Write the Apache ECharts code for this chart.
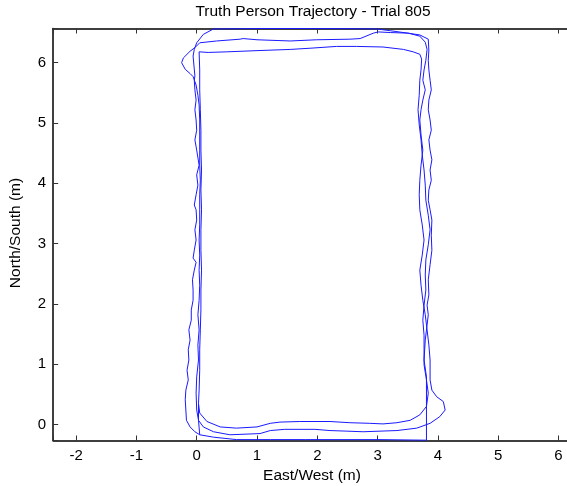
<!DOCTYPE html>
<html>
<head>
<meta charset="utf-8">
<script src="https://cdn.jsdelivr.net/npm/echarts@6/dist/echarts.min.js"></script>
<style>html,body{margin:0;padding:0;background:#fff;}#c{width:567px;height:486px;}</style>
</head>
<body>
<div id="c"></div>
<script>
// Axis limits (data units, metres)
const xLimits = [-2.38, 6.28];
const yLimits = [-0.265, 6.567];
const titleText = 'Truth Person Trajectory - Trial 805';
const xLabel = 'East/West (m)';
const yLabel = 'North/South (m)';

// Lap 1 (outer loop) [east, north]
const lap1 = [
[0.05,-0.17],[-0.03,-0.12],[-0.11,-0.04],[-0.17,0.07],[-0.18,0.24],[-0.19,0.41],[-0.18,0.57],[-0.14,0.74],[-0.16,0.90],[-0.13,1.07],
[-0.14,1.24],[-0.11,1.40],[-0.13,1.57],[-0.09,1.73],[-0.09,1.90],[-0.06,2.06],[-0.06,2.23],[-0.07,2.40],[-0.04,2.56],[-0.01,2.69],
[-0.06,2.76],[-0.04,2.89],[-0.01,3.06],[-0.03,3.23],[0.00,3.39],[-0.01,3.56],[-0.04,3.64],[-0.01,3.81],[0.02,3.97],[0.00,4.14],
[0.04,4.30],[0.00,4.55],[-0.03,4.72],[0.00,4.88],[-0.01,5.05],[-0.03,5.22],[-0.01,5.38],[-0.03,5.55],[-0.04,5.71],[-0.03,5.78],
[-0.06,6.11],[-0.04,6.22],[0.00,6.33],[0.11,6.47],[0.28,6.56],[1.05,6.567],[1.71,6.567],[2.38,6.565],[2.99,6.56],[3.21,6.53],
[3.50,6.49],[3.70,6.46],[3.84,6.39],[3.85,6.21],[3.84,6.04],[3.85,5.88],[3.87,5.71],[3.89,5.55],[3.85,5.38],[3.84,5.22],
[3.87,5.05],[3.89,4.88],[3.85,4.72],[3.87,4.55],[3.90,4.39],[3.87,4.22],[3.89,4.05],[3.85,3.89],[3.84,3.72],[3.87,3.56],
[3.90,3.39],[3.89,3.14],[3.90,2.89],[3.87,2.65],[3.84,2.40],[3.85,2.15],[3.82,1.98],[3.84,1.82],[3.82,1.65],[3.79,1.40],
[3.77,1.07],[3.81,0.79],[3.81,-0.26],[3.04,-0.25],[1.88,-0.25],[1.85,-0.23],[1.80,-0.25],[1.22,-0.25],[0.66,-0.25],[0.28,-0.21],
[0.05,-0.17]
];

// Lap 2 (middle loop)
const lap2 = [
[0.03,0.07],[0.00,0.24],[-0.01,0.52],[0.00,0.79],[0.03,1.07],[0.02,1.32],[0.04,1.57],[0.02,1.82],[0.04,2.06],[0.05,2.31],
[0.04,2.56],[0.05,2.81],[0.04,3.06],[0.05,3.31],[0.05,3.56],[0.05,3.81],[0.06,4.05],[0.05,4.30],[0.05,4.55],[0.05,4.80],
[0.05,5.05],[0.04,5.30],[0.02,5.46],[-0.01,5.63],[-0.06,5.77],[-0.11,5.82],[-0.19,5.89],[-0.25,6.00],[-0.22,6.08],[-0.11,6.19],
[-0.03,6.25],[0.05,6.33],[0.33,6.36],[0.72,6.39],[0.77,6.40],[1.00,6.38],[1.55,6.36],[1.99,6.38],[2.54,6.39],[2.71,6.40],
[2.93,6.49],[3.01,6.51],[3.21,6.50],[3.51,6.49],[3.70,6.44],[3.79,6.34],[3.82,6.22],[3.80,6.04],[3.77,5.88],[3.75,5.71],
[3.79,5.55],[3.75,5.38],[3.72,5.22],[3.70,5.05],[3.72,4.80],[3.75,4.55],[3.72,4.30],[3.70,4.05],[3.69,3.81],[3.70,3.56],
[3.74,3.31],[3.77,3.06],[3.74,2.81],[3.70,2.56],[3.72,2.31],[3.75,2.06],[3.79,1.82],[3.82,1.57],[3.85,1.32],[3.87,1.07],
[3.87,0.74],[3.90,0.57],[3.98,0.46],[4.09,0.38],[4.12,0.24],[4.03,0.13],[3.87,0.02],[3.65,-0.06],[3.32,-0.10],[3.04,-0.11],
[2.76,-0.12],[2.49,-0.11],[2.21,-0.10],[1.96,-0.08],[1.46,-0.08],[1.22,-0.10],[1.05,-0.15],[0.55,-0.17],[0.28,-0.12],[0.11,-0.04],
[0.03,0.07]
];

// Lap 3 (inner loop)
const lap3 = [
[0.03,0.35],[0.04,0.57],[0.05,0.90],[0.05,1.24],[0.06,1.57],[0.07,1.90],[0.07,2.23],[0.08,2.56],[0.07,2.89],[0.07,3.23],
[0.08,3.56],[0.07,3.89],[0.08,4.22],[0.07,4.55],[0.07,4.88],[0.06,5.22],[0.05,5.55],[0.05,5.88],[0.04,6.18],[0.19,6.17],
[0.50,6.18],[1.00,6.20],[1.55,6.22],[1.88,6.24],[2.32,6.27],[2.65,6.27],[3.09,6.26],[3.43,6.22],[3.59,6.18],[3.70,6.14],
[3.73,6.06],[3.72,5.88],[3.70,5.71],[3.69,5.46],[3.67,5.22],[3.69,4.97],[3.72,4.72],[3.74,4.47],[3.77,4.22],[3.79,3.97],
[3.80,3.72],[3.84,3.47],[3.87,3.23],[3.84,2.98],[3.80,2.73],[3.79,2.48],[3.80,2.23],[3.77,1.98],[3.75,1.73],[3.77,1.48],
[3.77,1.24],[3.77,0.99],[3.81,0.74],[3.84,0.52],[3.81,0.30],[3.70,0.16],[3.54,0.07],[3.32,0.03],[3.09,0.01],[2.87,0.02],
[2.54,0.03],[2.21,0.05],[1.71,0.05],[1.38,0.04],[1.22,0.02],[1.00,-0.04],[0.66,-0.06],[0.39,-0.04],[0.17,0.05],[0.05,0.19],
[0.03,0.35]
];

const trajectory = lap1.concat(lap2, lap3);

const FONT = 'Liberation Sans, Arial, Helvetica, sans-serif';
const chart = echarts.init(document.getElementById('c'), null, {renderer: 'canvas'});

const tickFmt = v => (Math.abs(v - Math.round(v)) < 1e-9 ? String(Math.round(v)) : '');

const gridTop = 28.5, gridBottom = 440.5;
const pxPerUnit = (gridBottom - gridTop) / (yLimits[1] - yLimits[0]);
const zeroX = 196.7;
const gridLeft = zeroX + xLimits[0] * pxPerUnit;
const gridWidth = (xLimits[1] - xLimits[0]) * pxPerUnit;

chart.setOption({
  animation: false,
  backgroundColor: '#ffffff',
  grid: {left: gridLeft, top: gridTop, width: gridWidth, height: gridBottom - gridTop, containLabel: false, outerBoundsMode: 'none', show: false},
  xAxis: [{
    type: 'value', position: 'bottom', min: xLimits[0], max: xLimits[1], minInterval: 1, maxInterval: 1,
    axisLine: {show: true, onZero: false, lineStyle: {color: '#000', width: 1.5}},
    axisTick: {show: true, inside: true, length: 5, lineStyle: {color: '#333', width: 1}},
    axisLabel: {show: true, margin: 8, color: '#000', fontSize: 15, fontFamily: FONT, formatter: tickFmt, showMinLabel: true, showMaxLabel: true},
    splitLine: {show: false}
  }, {
    type: 'value', position: 'top', min: xLimits[0], max: xLimits[1], minInterval: 1, maxInterval: 1,
    axisLine: {show: true, onZero: false, lineStyle: {color: '#000', width: 1.5}},
    axisTick: {show: true, inside: true, length: 5, lineStyle: {color: '#333', width: 1}},
    axisLabel: {show: false},
    splitLine: {show: false}
  }],
  yAxis: [{
    type: 'value', position: 'left', min: yLimits[0], max: yLimits[1], minInterval: 1, maxInterval: 1,
    axisLine: {show: true, onZero: false, lineStyle: {color: '#000', width: 1.5}},
    axisTick: {show: true, inside: true, length: 5, lineStyle: {color: '#333', width: 1}},
    axisLabel: {show: true, margin: 7, color: '#000', fontSize: 15, fontFamily: FONT, formatter: tickFmt},
    splitLine: {show: false}
  }],
  graphic: [
    {type: 'text', silent: true, style: {x: 313, y: 12, text: titleText, fill: '#000', font: '15.5px ' + FONT, textAlign: 'center', textVerticalAlign: 'middle'}},
    {type: 'text', silent: true, style: {x: 312, y: 476, text: xLabel, fill: '#000', font: '15.5px ' + FONT, textAlign: 'center', textVerticalAlign: 'middle'}},
    {type: 'text', silent: true, x: 16, y: 233, rotation: Math.PI / 2, style: {x: 0, y: 0, text: yLabel, fill: '#000', font: '15.5px ' + FONT, textAlign: 'center', textVerticalAlign: 'middle'}}
  ],
  series: [{
    type: 'line', xAxisIndex: 0, yAxisIndex: 0, data: trajectory,
    showSymbol: false, symbol: 'none', smooth: false, clip: true,
    lineStyle: {color: '#1a1aff', width: 1}
  }]
});
</script>
</body>
</html>
